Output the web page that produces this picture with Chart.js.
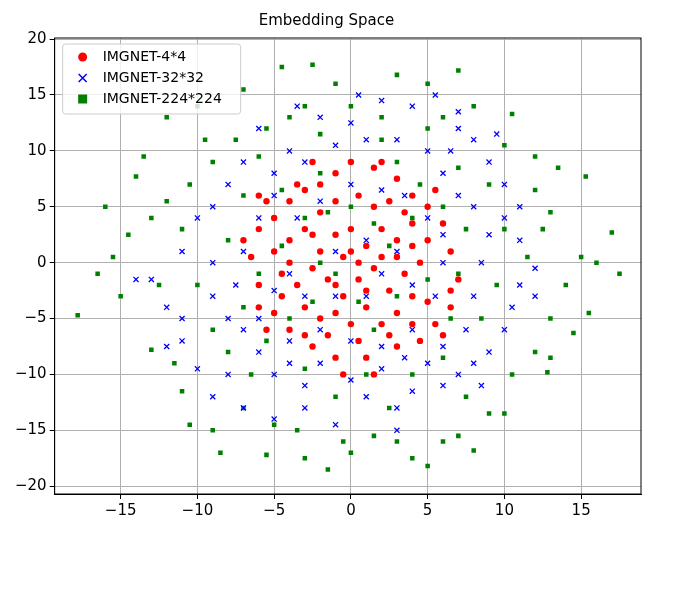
<!DOCTYPE html>
<html>
<head>
<meta charset="utf-8">
<script src="https://cdn.jsdelivr.net/npm/chart.js@4"></script>
<style>
  body { margin: 0; background: #fff; }
  #box { width: 695px; height: 595px; }
</style>
</head>
<body>
<div id="box"><canvas id="Chart"></canvas></div>
<script>
const seriesNames = ['IMGNET-4*4', 'IMGNET-32*32', 'IMGNET-224*224'];
const xTicks = [-15, -10, -5, 0, 5, 10, 15];
const yTicks = [-20, -15, -10, -5, 0, 5, 10, 15, 20];

const red = [[-5,4],[-4,5.5],[-3,6.5],[-2,7],[-1,8],[0,9],[1.5,8.5],[3,7.5],[4,6],[5,5],[6,3.5],[6.5,1],[7,-1.5],[6.5,-4],[6,-6.5],[4.5,-7],[3,-7.5],[1,-8.5],[-1,-8.5],[-2.5,-7.5],[-4,-6],[-5,-4.5],[-6,-2],[-6.5,0.5],[-6,3],[-4,2],[-3,3],[-2,1],[-1,2.5],[0,3],[1,1.5],[2,3],[3,2],[4,3.5],[5,2],[4.5,0],[3.5,-1],[2.5,-2.5],[1.5,-0.5],[0.5,-1.5],[-0.5,-3],[-1.5,-1.5],[-2.5,-0.5],[-3.5,-2],[-4.5,-1],[-5,1],[-3,-4],[-2,-5],[-1,-4.5],[0,-5.5],[1,-4],[2,-5.5],[3,-4.5],[4,-3],[5,-3.5],[5.5,-5.5],[-4.5,-3],[-2,4.5],[-1,5.5],[0.5,6],[1.5,5],[2.5,5.5],[3.5,4.5],[-5.5,5.5],[-3.5,7],[2,9],[-0.5,0.5],[0.5,0],[2,0.5],[-1.5,-6.5],[0.5,-7],[2.5,-6.5],[-3,-6.5],[4,-5.5],[-6,-4],[6.5,-2.5],[-7,2],[-5.5,-6],[-2.5,2.5],[3,0.5],[-1,-2],[1,-2.5],[-4,0],[4,1.5],[0,1],[-6,6],[5.5,6.5],[-0.5,-10],[1.5,-10],[-2.5,9]];

const blue = [[-14,-1.5],[-13,-1.5],[-12,-4],[-11,1],[-10,4],[-11,-7],[-10,-9.5],[-9,-12],[-8,-10],[-7,-13],[-5,-14],[-3,-13],[-1,-14.5],[1,-12],[3,-13],[4,-11.5],[6,-11],[7,-10],[8,-9],[9,-8],[10,-6],[10.5,-4],[11,-2],[12,-0.5],[11,2],[10,4],[11,5],[10,7],[9,9],[8,11],[7,12],[5.5,15],[4,14],[2,14.5],[0,12.5],[-2,13],[-4,10],[-5,8],[-7,9],[-8,7],[-9,5],[-9,0],[-9,-3],[-8,-5],[-7,-6],[-6,-8],[-5,-10],[-4,-9],[-3,-11],[-2,-9],[0,-10.5],[2,-9.5],[3.5,-8.5],[5,-9],[6,-7.5],[7.5,-6],[8,-3],[8.5,0],[9,2.5],[8,5],[7,6],[6,8],[5,10],[3,11],[1,11],[-1,10.5],[-3,9],[-5,6],[-6,4],[-7,1],[-7.5,-2],[-6,-5],[-4,-7],[-2,-6],[0,-7],[2,-7.5],[4,-6],[5.5,-3],[6,0],[6,2.5],[5,4],[3.5,6],[2,6.5],[0,7],[-2,5.5],[-3.5,4],[-4,-1],[-3,-3],[-1,-3],[1,-3],[2,-1],[3,1],[1,2],[-1,1],[-5,-2.5],[4,-2],[6.5,10],[9.5,11.5],[-11,-5],[-12,-7.5],[8.5,-11],[-6,12],[3,-15],[12,-3],[7,13.5],[-3.5,14],[0.5,15]];

const green = [[-17.8,-4.7],[-16.5,-1],[-15.5,0.5],[-15,-3],[-14,7.7],[-13.5,9.5],[-13,-7.8],[-14.5,2.5],[-13,4],[-12,5.5],[-12.5,-2],[-11.5,-9],[-11,-11.5],[-10.5,-14.5],[-9,-15],[-8.5,-17],[-7,-13],[-5.5,-17.2],[-5,-14.5],[-3,-17.5],[-3.5,-15],[-1.5,-18.5],[-0.5,-16],[0,-17],[1.5,-15.5],[2.5,-13],[3,-16],[4,-17.5],[5,-18.2],[6,-16],[7,-15.5],[8,-16.8],[7.5,-12],[9,-13.5],[10,-13.5],[10.5,-10],[12,-8],[13,-8.5],[12.8,-9.8],[14.5,-6.3],[13,-5],[14,-2],[16,0],[17.5,-1],[17,2.7],[15,0.5],[15.3,7.7],[13,4.5],[12,6.5],[12.5,3],[11.5,0.5],[12,9.5],[10.5,13.3],[10,10.5],[8,14],[7,17.2],[6,13],[5,16],[3,16.8],[2,13],[0,14],[-1,16],[-2.5,17.7],[-3,14],[-4.5,17.5],[-5.5,12],[-7,15.5],[-7.5,11],[-9,9],[-10,14],[-12,13],[-10.5,7],[-11,3],[-10,-2],[-9,-6],[-8,2],[-7,6],[-6,9.5],[-4.5,6.5],[-3,4],[-2,8],[0,5],[1.5,3.5],[3,9],[4.5,7],[6,5],[7.5,3],[7,-1],[5,-1.5],[3,-3],[1.5,-6],[-1,-1],[-2.5,-3.5],[-4,-5],[-5.5,-7],[-7,-4],[-6.5,-10],[-3,-9.5],[-1,-12],[1,-10],[4,-10],[6,-8.5],[8.5,-5],[9.5,-2],[10,3],[9,7],[7,8.5],[5,12],[2,11],[-2,11.5],[-4,13],[-8,-8],[-2,0],[0.5,-3.5],[2.5,1.5],[-4.5,1.5],[-6,-1],[4,4],[-1.5,4.5],[6.5,-5],[-9.5,11],[13.5,8.5],[-16,5],[15.5,-4.5]];

const colors = ['#ff0000', '#0000ff', '#008000'];
const styles = ['circle', 'crossRot', 'rect'];
const sizes = [3.2, 3.6, 3.2];

const toPts = arr => arr.map(p => ({ x: p[0], y: p[1] }));
const minus = v => String(v).replace('-', '\u2212');

// full box around the axes + legend inside, top-left
const innerLegend = {
  id: 'innerLegend',
  afterDraw(chart) {
    const ctx = chart.ctx, a = chart.chartArea;
    ctx.save();
    ctx.strokeStyle = '#000';
    ctx.lineWidth = 1;
    ctx.strokeRect(a.left, a.top, a.right - a.left, a.bottom - a.top);
    const x0 = a.left + 8, y0 = a.top + 6;
    ctx.fillStyle = 'rgba(255,255,255,0.8)';
    ctx.strokeStyle = '#cccccc';
    ctx.beginPath();
    ctx.roundRect(x0, y0, 178, 70, 3);
    ctx.fill(); ctx.stroke();
    ctx.font = '14px "DejaVu Sans"';
    ctx.textBaseline = 'middle';
    seriesNames.forEach((name, i) => {
      const cy = y0 + 13 + i * 21, cx = x0 + 20;
      ctx.fillStyle = colors[i]; ctx.strokeStyle = colors[i]; ctx.lineWidth = 1.5;
      if (i === 0) { ctx.beginPath(); ctx.arc(cx, cy, 4.5, 0, Math.PI * 2); ctx.fill(); }
      if (i === 1) { ctx.beginPath(); ctx.moveTo(cx-4,cy-4); ctx.lineTo(cx+4,cy+4); ctx.moveTo(cx+4,cy-4); ctx.lineTo(cx-4,cy+4); ctx.stroke(); }
      if (i === 2) { ctx.fillRect(cx - 4.5, cy - 4.5, 9, 9); }
      ctx.fillStyle = '#000';
      ctx.fillText(name, x0 + 40, cy);
    });
    ctx.restore();
  }
};

const data = {
  datasets: [red, blue, green].map((arr, i) => ({
    label: seriesNames[i],
    data: toPts(arr),
    pointStyle: styles[i],
    radius: sizes[i],
    backgroundColor: colors[i],
    borderColor: colors[i],
    borderWidth: i === 1 ? 1.3 : 0,
    order: i === 2 ? 3 : (i === 1 ? 2 : 1)
  }))
};

const fixTicks = list => axis => { axis.ticks = list.map(v => ({ value: v })); };

const config = {
  type: 'scatter',
  data,
  plugins: [innerLegend],
  options: {
    animation: false,
    responsive: true,
    maintainAspectRatio: false,
    layout: { padding: { left: 12, right: 54, top: 0, bottom: 72 } },
    scales: {
      x: {
        min: -19.3, max: 18.9,
        afterBuildTicks: fixTicks(xTicks),
        ticks: { color: '#000', font: { family: 'DejaVu Sans', size: 15 }, callback: minus },
        grid: { color: '#b0b0b0', tickColor: '#000', tickLength: 5 },
        border: { color: '#000', width: 1 }
      },
      y: {
        min: -20.7, max: 20.1,
        afterBuildTicks: fixTicks(yTicks),
        ticks: { color: '#000', font: { family: 'DejaVu Sans', size: 15 }, callback: minus },
        grid: { color: '#b0b0b0', tickColor: '#000', tickLength: 5 },
        border: { color: '#000', width: 1 }
      }
    },
    plugins: {
      legend: { display: false },
      tooltip: { enabled: false },
      title: {
        display: true, text: 'Embedding Space', color: '#000',
        font: { family: 'DejaVu Sans', size: 15, weight: 'normal' },
        padding: { top: 12, bottom: 8 }
      }
    }
  }
};

const myChart = new Chart(document.getElementById('Chart'), config);
</script>
</body>
</html>
